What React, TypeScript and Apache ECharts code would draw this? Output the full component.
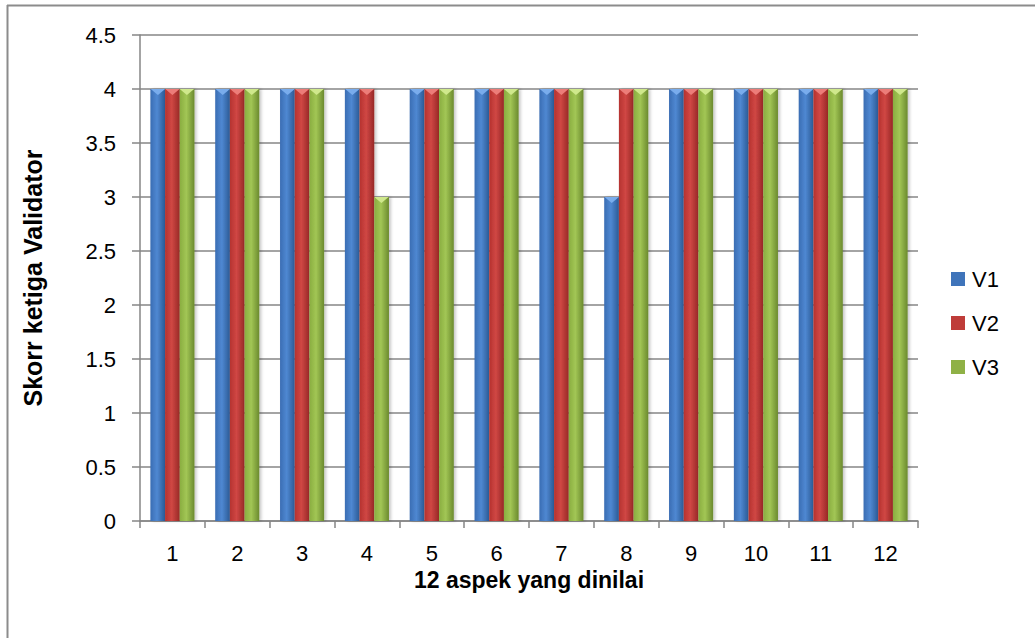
import React, { useEffect, useRef } from "react";
import * as echarts from "echarts";

const categories = ["1", "2", "3", "4", "5", "6", "7", "8", "9", "10", "11", "12"];
const v1 = [4, 4, 4, 4, 4, 4, 4, 3, 4, 4, 4, 4];
const v2 = [4, 4, 4, 4, 4, 4, 4, 4, 4, 4, 4, 4];
const v3 = [4, 4, 4, 3, 4, 4, 4, 4, 4, 4, 4, 4];
const seriesNames = ["V1", "V2", "V3"];
const yTitle = "Skorr ketiga Validator";
const xTitle = "12 aspek yang dinilai";

const FONT = "'Liberation Sans', Arial, sans-serif";

function grad(edgeL: string, mid: string, edgeR: string) {
  return new echarts.graphic.LinearGradient(0, 0, 1, 0, [
    { offset: 0, color: edgeL },
    { offset: 0.45, color: mid },
    { offset: 1, color: edgeR },
  ]);
}

export default function App() {
  const ref = useRef<HTMLDivElement>(null);
  useEffect(() => {
    if (!ref.current) return;
    const chart = echarts.init(ref.current, undefined, { renderer: "svg" });
    const palettes = [
      { l: "#3a6db3", m: "#4f88d2", r: "#2b5a95", flat: "#3f74ba", tip: "#79acec" },
      { l: "#b5322f", m: "#d04744", r: "#972826", flat: "#bf3c39", tip: "#ec7d79" },
      { l: "#89ad40", m: "#a2c655", r: "#6b8a2e", flat: "#8fb146", tip: "#cfe88c" },
    ];
    const datas = [v1, v2, v3];
    const barW = 14.5;
    const offsets = ["-100%", "0%", "100%"];
    const bars: any[] = datas.map((d, i) => ({
      name: seriesNames[i],
      type: "bar",
      data: d,
      barGap: "0%",
      barCategoryGap: "32%",
      itemStyle: {
        color: grad(palettes[i].l, palettes[i].m, palettes[i].r),
        shadowColor: "rgba(0,0,0,0.22)",
        shadowBlur: 3,
        shadowOffsetX: 2,
        shadowOffsetY: 0,
      },
      z: 2,
    }));
    const tips: any[] = datas.map((d, i) => ({
      name: "tip" + i,
      type: "pictorialBar",
      data: d,
      symbol: "triangle",
      symbolRotate: 180,
      symbolSize: [barW, 6],
      symbolPosition: "end",
      symbolOffset: [offsets[i], 0],
      itemStyle: { color: palettes[i].tip },
      z: 3,
      silent: true,
    }));
    chart.setOption({
      animation: false,
      backgroundColor: "#ffffff",
      color: palettes.map((p) => p.flat),
      grid: { left: 140, right: 117, top: 35, bottom: 117, containLabel: false },
      legend: {
        data: seriesNames.map((n, i) => ({ name: n, itemStyle: { color: palettes[i].flat } })),
        orient: "vertical",
        left: 951,
        top: 268,
        padding: 0,
        itemWidth: 14,
        itemHeight: 14,
        itemGap: 22,
        icon: "rect",
        textStyle: { fontFamily: FONT, fontSize: 22, color: "#000", padding: [0, 0, 0, 2] },
      },
      xAxis: {
        type: "category",
        data: categories,
        boundaryGap: true,
        name: xTitle,
        nameLocation: "middle",
        nameGap: 47,
        nameMoveOverlap: false,
        nameTextStyle: { fontFamily: FONT, fontSize: 23, lineHeight: 24, fontWeight: "bold", color: "#000" },
        axisLine: { lineStyle: { color: "#868686", width: 1.5 } },
        axisTick: { show: true, length: 7, alignWithLabel: false, lineStyle: { color: "#868686", width: 1.5 } },
        axisLabel: { fontFamily: FONT, fontSize: 22, lineHeight: 22, color: "#000", margin: 21 },
        splitLine: { show: false },
      },
      yAxis: {
        type: "value",
        min: 0,
        max: 4.5,
        interval: 0.5,
        name: yTitle,
        nameLocation: "middle",
        nameGap: 95,
        nameRotate: 90,
        nameTextStyle: { fontFamily: FONT, fontSize: 25, fontWeight: "bold", color: "#000" },
        axisLine: { show: true, lineStyle: { color: "#868686", width: 1.5 } },
        axisTick: { show: true, length: 8, lineStyle: { color: "#868686", width: 1.5 } },
        axisLabel: { fontFamily: FONT, fontSize: 22, color: "#000", margin: 24 },
        splitLine: { show: true, lineStyle: { color: "#868686", width: 1.5 } },
      },
      graphic: [
        { type: "line", shape: { x1: 7, y1: 5.5, x2: 1035, y2: 5.5 }, style: { stroke: "#8c8c8c", lineWidth: 2 } },
        { type: "line", shape: { x1: 7.5, y1: 5, x2: 7.5, y2: 638 }, style: { stroke: "#8c8c8c", lineWidth: 2 } },
      ],
      series: [...bars, ...tips],
    });
    return () => chart.dispose();
  }, []);
  return (
    <div
      ref={ref}
      style={{ position: "fixed", left: 0, top: 0, width: 1035, height: 638 }}
    />
  );
}
